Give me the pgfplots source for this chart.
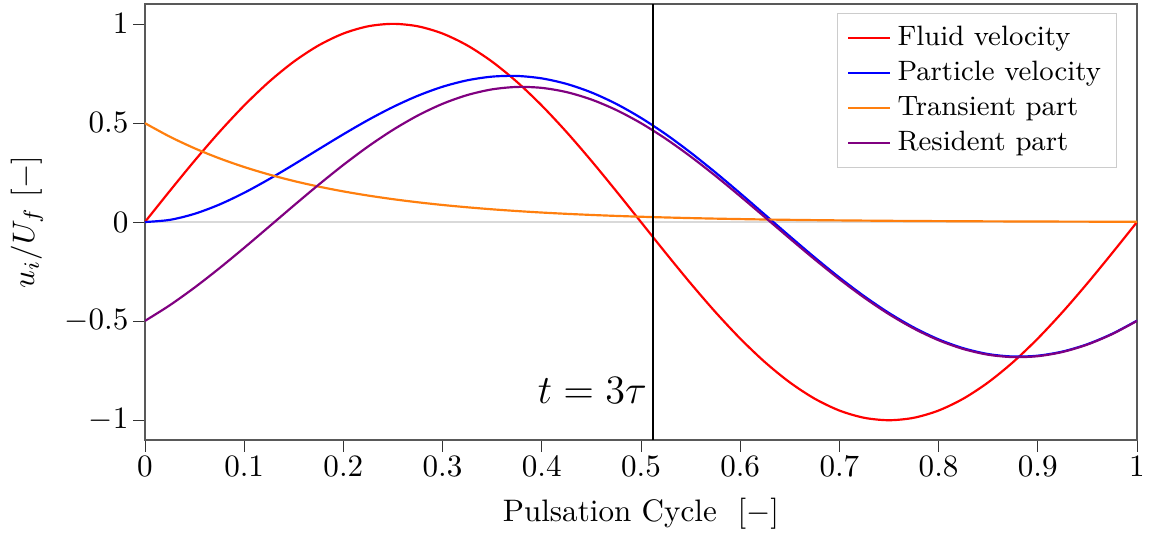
\documentclass[border=0pt]{standalone}
\usepackage{pgfplots}
\pgfplotsset{compat=1.18}
\usepackage{pgfplotstable}
\definecolor{myorange}{RGB}{255,127,14}
\definecolor{mypurple}{RGB}{128,0,128}
\pgfplotstableread{
x fluid particle transient resident
0     0.0000  0.0000  0.4989 -0.4989
0.025 0.1564  0.0108  0.4309 -0.4201
0.05  0.3090  0.0414  0.3722 -0.3308
0.075 0.4540  0.0881  0.3215 -0.2334
0.1   0.5878  0.1474  0.2777 -0.1303
0.125 0.7071  0.2159  0.2399 -0.0240
0.15  0.8090  0.2901  0.2072  0.0829
0.175 0.8910  0.3668  0.1790  0.1878
0.2   0.9511  0.4427  0.1546  0.2881
0.225 0.9877  0.5149  0.1336  0.3813
0.25  1.0000  0.5804  0.1154  0.4650
0.275 0.9877  0.6370  0.0997  0.5373
0.3   0.9511  0.6826  0.0861  0.5965
0.325 0.8910  0.7152  0.0744  0.6408
0.35  0.8090  0.7337  0.0642  0.6695
0.375 0.7071  0.7371  0.0555  0.6816
0.4   0.5878  0.7248  0.0479  0.6769
0.425 0.4540  0.6970  0.0414  0.6556
0.45  0.3090  0.6540  0.0358  0.6182
0.475 0.1564  0.5964  0.0309  0.5655
0.5   0.0000  0.5256  0.0267  0.4989
0.525 -0.1564 0.4432  0.0231  0.4201
0.55  -0.3090 0.3507  0.0199  0.3308
0.575 -0.4540 0.2506  0.0172  0.2334
0.6   -0.5878 0.1452  0.0149  0.1303
0.625 -0.7071 0.0368  0.0128  0.0240
0.65  -0.8090 -0.0718 0.0111 -0.0829
0.675 -0.8910 -0.1782 0.0096 -0.1878
0.7   -0.9511 -0.2798 0.0083 -0.2881
0.725 -0.9877 -0.3741 0.0072 -0.3813
0.75  -1.0000 -0.4588 0.0062 -0.4650
0.775 -0.9877 -0.5320 0.0053 -0.5373
0.8   -0.9511 -0.5919 0.0046 -0.5965
0.825 -0.8910 -0.6368 0.0040 -0.6408
0.85  -0.8090 -0.6661 0.0034 -0.6695
0.875 -0.7071 -0.6786 0.0030 -0.6816
0.9   -0.5878 -0.6743 0.0026 -0.6769
0.925 -0.4540 -0.6534 0.0022 -0.6556
0.95  -0.3090 -0.6163 0.0019 -0.6182
0.975 -0.1564 -0.5638 0.0017 -0.5655
1     0.0000  -0.4975 0.0014 -0.4989
}\datatable
\begin{document}
\begin{tikzpicture}
\begin{axis}[
  scale only axis,
  width=319pt, height=140.2pt,
  xmin=0, xmax=1, ymin=-1.1, ymax=1.1,
  xtick={0,0.1,...,1},
  ytick={-1,-0.5,0,0.5,1},
  xticklabel style={/pgf/number format/fixed},
  tick align=outside,
  major tick length=3.8pt,
  xticklabel shift=-2pt, yticklabel shift=-2pt,
  xtick pos=bottom, ytick pos=left,
  axis line style={black!65},
  major tick style={black!80},
  xlabel={Pulsation Cycle\ \ $[-]$},
  ylabel={$u_i/U_f\ [-]$},
  legend style={at={(rel axis cs:0.980,0.979)}, anchor=north east, draw=black!20, cells={anchor=west}, font=\small, row sep=-0.5pt},
  legend cell align=left,
  legend image code/.code={\draw[#1] (0pt,0pt) -- (13.5pt,0pt);},
  every axis plot/.append style={line width=0.7pt},
]
\addplot[black!15, line width=0.5pt, forget plot] coordinates {(0,0) (1,0)};
\addplot[red, smooth] table[x=x, y=fluid] {\datatable};
\addlegendentry{Fluid velocity}
\addplot[blue, smooth] table[x=x, y=particle] {\datatable};
\addlegendentry{Particle velocity}
\addplot[myorange, smooth] table[x=x, y=transient] {\datatable};
\addlegendentry{Transient part}
\addplot[mypurple, smooth] table[x=x, y=resident] {\datatable};
\addlegendentry{Resident part}
\addplot[black, line width=0.7pt, forget plot] coordinates {(0.512,-1.1) (0.512,1.1)};
\node[anchor=east, font=\Large, scale=0.9, inner sep=2pt] at (axis cs:0.512,-0.85) {$t=3\tau$};
\end{axis}
\pgfresetboundingbox
\path ([xshift=-46.6pt, yshift=1.3pt]current axis.north west) ([xshift=4.5pt, yshift=-31.5pt]current axis.south east);
\end{tikzpicture}
\end{document}
